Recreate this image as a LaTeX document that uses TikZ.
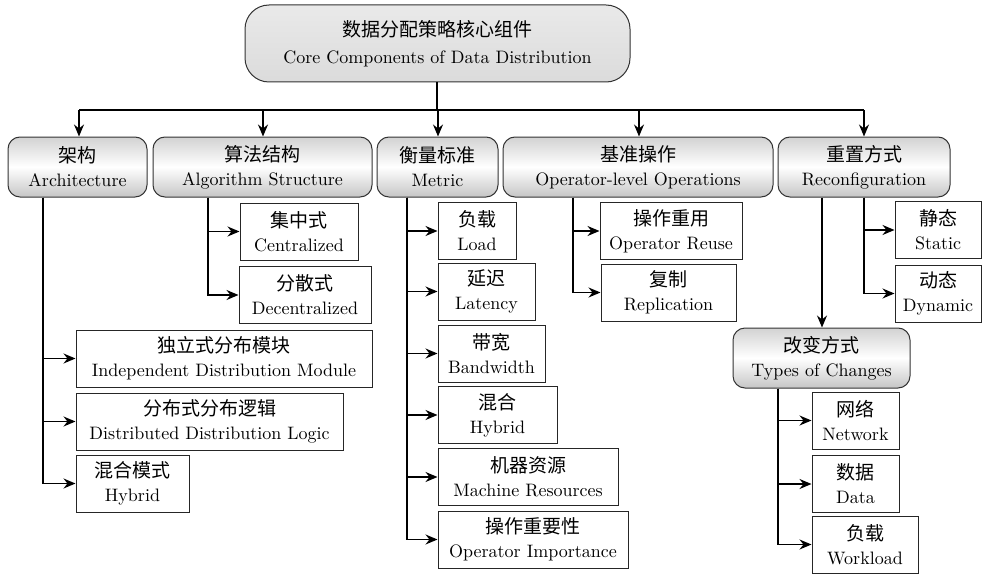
\documentclass[tikz,border=0pt]{standalone}
\usepackage{fontspec}
\setmainfont{lmroman10-regular}[Extension=.otf]
\newfontfamily\cjk{Noto Sans CJK SC}
\usetikzlibrary{arrows.meta,calc}
\newcommand{\twoline}[2]{{\cjk\fontsize{19}{24}\selectfont #1}\\#2}
\begin{document}
\begin{tikzpicture}[x=1pt,y=-1pt,
  every node/.style={font=\fontsize{18}{24}\selectfont, align=center, inner sep=0pt},
  rootbox/.style={draw=black!80, line width=1pt, rounded corners=24pt, top color=gray!17, bottom color=gray!28},
  headbox/.style={draw=black!80, line width=1pt, rounded corners=12pt, top color=gray!35, bottom color=gray!45, middle color=white},
  leafbox/.style={draw=black!85, line width=1pt, fill=white},
  conn/.style={line width=1.4pt, black},
  arr/.style={conn, -{Stealth[length=12pt,width=10pt,inset=4pt]}}
]
\useasboundingbox (0,0) rectangle (987,575);

% root
\node[rootbox, minimum width=385pt, minimum height=77pt, font=\fontsize{18}{27}\selectfont] (root) at (437.5,43.5) {{\cjk\fontsize{19}{27}\selectfont 数据分配策略核心组件}\\Core Components of Data Distribution};

% level 1
\node[headbox, minimum width=139pt, minimum height=60pt] (arch) at (77.5,167) {\twoline{架构}{Architecture}};
\node[headbox, minimum width=219pt, minimum height=60pt] (algo) at (262.5,167) {\twoline{算法结构}{Algorithm Structure}};
\node[headbox, minimum width=121pt, minimum height=60pt] (metric) at (437.5,167) {\twoline{衡量标准}{Metric}};
\node[headbox, minimum width=270pt, minimum height=60pt] (oper) at (638,167) {\twoline{基准操作}{Operator-level Operations}};
\node[headbox, minimum width=172pt, minimum height=60pt] (reconf) at (864,167) {\twoline{重置方式}{Reconfiguration}};

% architecture children
\node[leafbox, minimum width=296pt, minimum height=57pt] (idm) at (224,358.5) {\twoline{独立式分布模块}{Independent Distribution Module}};
\node[leafbox, minimum width=267pt, minimum height=57pt] (ddl) at (209.5,421.5) {\twoline{分布式分布逻辑}{Distributed Distribution Logic}};
\node[leafbox, minimum width=113pt, minimum height=57pt] (hyba) at (132.5,483.5) {\twoline{混合模式}{Hybrid}};

% algorithm children
\node[leafbox, minimum width=118pt, minimum height=57pt] (cen) at (299,231.5) {\twoline{集中式}{Centralized}};
\node[leafbox, minimum width=132pt, minimum height=57pt] (dec) at (305,295) {\twoline{分散式}{Decentralized}};

% metric children
\node[leafbox, minimum width=78pt, minimum height=57pt] (load) at (477,231) {\twoline{负载}{Load}};
\node[leafbox, minimum width=97pt, minimum height=57pt] (lat) at (486.5,291.5) {\twoline{延迟}{Latency}};
\node[leafbox, minimum width=107pt, minimum height=57pt] (bw) at (491.5,353.5) {\twoline{带宽}{Bandwidth}};
\node[leafbox, minimum width=119pt, minimum height=57pt] (hybm) at (497.5,415) {\twoline{混合}{Hybrid}};
\node[leafbox, minimum width=180pt, minimum height=57pt] (mr) at (528,477) {\twoline{机器资源}{Machine Resources}};
\node[leafbox, minimum width=190pt, minimum height=57pt] (oi) at (533,539.5) {\twoline{操作重要性}{Operator Importance}};

% operator children
\node[leafbox, minimum width=142pt, minimum height=57pt] (reuse) at (671,231) {\twoline{操作重用}{Operator Reuse}};
\node[leafbox, minimum width=135pt, minimum height=57pt] (repl) at (668.5,292.5) {\twoline{复制}{Replication}};

% reconfiguration children
\node[leafbox, minimum width=86pt, minimum height=57pt] (stat) at (938,230) {\twoline{静态}{Static}};
\node[leafbox, minimum width=86pt, minimum height=57pt] (dyn) at (938,293.5) {\twoline{动态}{Dynamic}};
\node[headbox, minimum width=177pt, minimum height=60pt] (types) at (821.5,358) {\twoline{改变方式}{Types of Changes}};

% types children
\node[leafbox, minimum width=87pt, minimum height=57pt] (net) at (855.5,420.5) {\twoline{网络}{Network}};
\node[leafbox, minimum width=87pt, minimum height=57pt] (data) at (855.5,484) {\twoline{数据}{Data}};
\node[leafbox, minimum width=106pt, minimum height=57pt] (wl) at (865,544.5) {\twoline{负载}{Workload}};

% trunk
\coordinate (bar) at (437,110);
\coordinate (xa) at (79,0);
\coordinate (xb) at (263,0);
\coordinate (xc) at (438,0);
\coordinate (xd) at (639,0);
\coordinate (xe) at (864,0);
\draw[conn] (root.south -| bar) -- (bar);
\draw[conn] (bar -| xa) -- (bar -| xe);
\draw[arr] (bar -| xa) -- (arch.north -| xa);
\draw[arr] (bar -| xb) -- (algo.north -| xb);
\draw[arr] (bar -| xc) -- (metric.north -| xc);
\draw[arr] (bar -| xd) -- (oper.north -| xd);
\draw[arr] (bar -| xe) -- (reconf.north -| xe);

% branch x positions
\coordinate (ba) at (43,0);
\coordinate (bb) at (208,0);
\coordinate (bc) at (407,0);
\coordinate (bd) at (573,0);
\coordinate (be) at (864,0);
\coordinate (bf) at (822,0);
\coordinate (bg) at (778,0);

\draw[arr] (arch.south -| ba) |- (idm.west);
\draw[arr] (arch.south -| ba) |- (ddl.west);
\draw[arr] (arch.south -| ba) |- (hyba.west);

\draw[arr] (algo.south -| bb) |- (cen.west);
\draw[arr] (algo.south -| bb) |- (dec.west);

\draw[arr] (metric.south -| bc) |- (load.west);
\draw[arr] (metric.south -| bc) |- (lat.west);
\draw[arr] (metric.south -| bc) |- (bw.west);
\draw[arr] (metric.south -| bc) |- (hybm.west);
\draw[arr] (metric.south -| bc) |- (mr.west);
\draw[arr] (metric.south -| bc) |- (oi.west);

\draw[arr] (oper.south -| bd) |- (reuse.west);
\draw[arr] (oper.south -| bd) |- (repl.west);

\draw[arr] (reconf.south -| be) |- (stat.west);
\draw[arr] (reconf.south -| be) |- (dyn.west);
\draw[arr] (reconf.south -| bf) -- (types.north -| bf);

\draw[arr] (types.south -| bg) |- (net.west);
\draw[arr] (types.south -| bg) |- (data.west);
\draw[arr] (types.south -| bg) |- (wl.west);
\end{tikzpicture}
\end{document}
